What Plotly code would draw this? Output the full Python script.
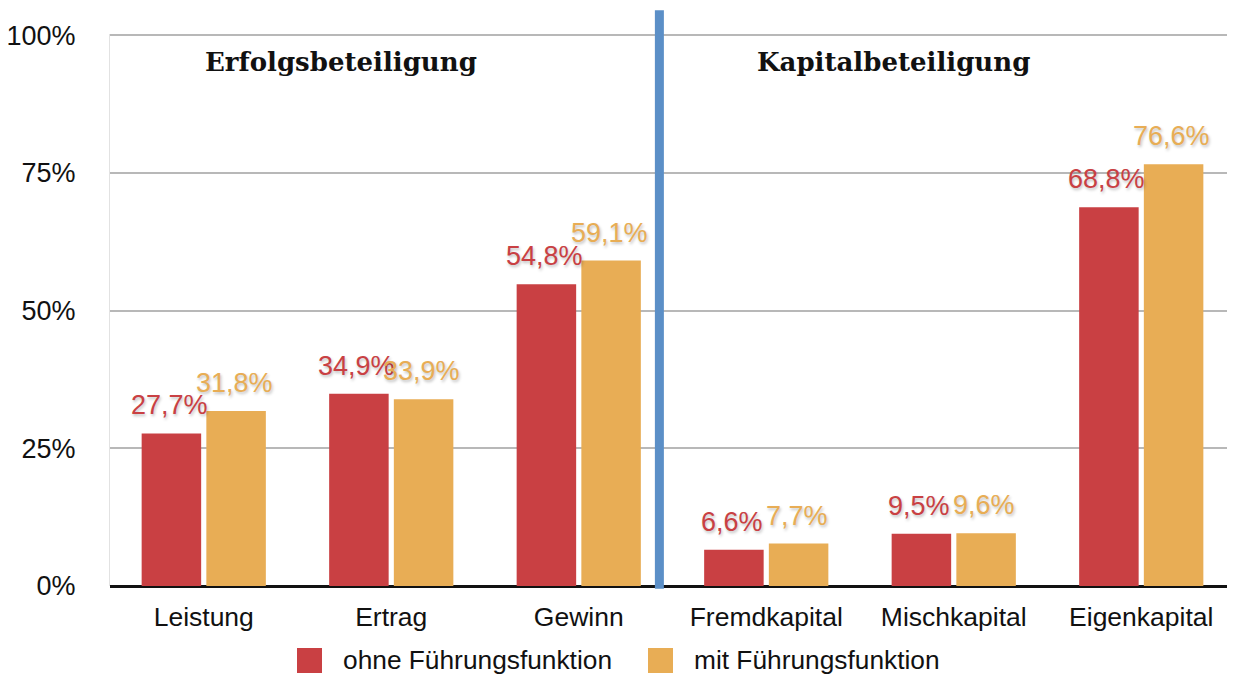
import plotly.graph_objects as go

categories = ["Leistung", "Ertrag", "Gewinn", "Fremdkapital", "Mischkapital", "Eigenkapital"]
ohne = [27.7, 34.9, 54.8, 6.6, 9.5, 68.8]
mit = [31.8, 33.9, 59.1, 7.7, 9.6, 76.6]
series_names = ["ohne Führungsfunktion", "mit Führungsfunktion"]
tick_vals = [0, 25, 50, 75, 100]
tick_text = ["0%", "25%", "50%", "75%", "100%"]
section_titles = ["Erfolgsbeteiligung", "Kapitalbeteiligung"]

RED = "#c94043"
ORANGE = "#e8ad55"
FONT = "Liberation Sans, Arial, sans-serif"
FS = 27
BARGAP = 0.31
BARGROUPGAP = 0.08
# page body has an 8px default margin, so the figure is 8px smaller
W, H = 1227, 667
ML, MR, MT, MB = 102, 0, 26, 89
PW, PH = W - ML - MR, H - MT - MB

def px_x(px):
    return (px - ML) / PW

def px_y(py):
    return (H - MB - py) / PH

def fmt(v):
    return f"{v:.1f}".replace(".", ",") + "%"

fig = go.Figure()
series = [(series_names[0], ohne, RED), (series_names[1], mit, ORANGE)]
for name, vals, col in series:
    fig.add_trace(go.Bar(
        x=categories, y=vals, name=name, showlegend=False,
        marker=dict(color=col, line=dict(width=0)),
    ))

# value labels above the bars, positioned from the data values
cat_px = PW / len(categories)
group_w = (1 - BARGAP) * cat_px
offsets = [-group_w / 4, group_w / 4]
for (name, vals, col), off in zip(series, offsets):
    for i, v in enumerate(vals):
        fig.add_annotation(
            x=categories[i], y=v, xref="x", yref="y", text=fmt(v),
            showarrow=False, xshift=off - 2, yshift=11, yanchor="bottom",
            font=dict(color=col, size=FS, family=FONT,
                      shadow="1px 2px 3px rgba(0,0,0,0.25)"),
        )

# legend (large square swatches)
legend_x = [289, 640]
for (name, vals, col), lx in zip(series, legend_x):
    fig.add_shape(type="rect", xref="paper", yref="paper",
                  x0=px_x(lx), x1=px_x(lx + 25), y0=px_y(640), y1=px_y(665),
                  fillcolor=col, line=dict(width=0))
    fig.add_annotation(x=px_x(lx + 45), y=px_y(652), xref="paper", yref="paper",
                       text=name, showarrow=False, xanchor="left", yanchor="middle",
                       borderpad=0,
                       font=dict(size=26.3, family=FONT, color="#111"))

fig.update_layout(
    width=W, height=H,
    margin=dict(l=ML, r=MR, t=MT, b=MB, autoexpand=False),
    paper_bgcolor="white", plot_bgcolor="white",
    barmode="group", bargap=BARGAP, bargroupgap=BARGROUPGAP,
    font=dict(family=FONT, size=FS, color="#111"),
    showlegend=False,
    xaxis=dict(showgrid=False, tickfont=dict(size=26.5), ticks="", showline=False,
               zeroline=False, ticklabelstandoff=12, automargin=False),
    yaxis=dict(range=[0, 100.25], tickvals=tick_vals, ticktext=tick_text,
               showgrid=True, gridcolor="#b8b8b8", gridwidth=2,
               zeroline=True, zerolinecolor="#111", zerolinewidth=3,
               showline=True, linecolor="#e2e2e2", linewidth=1,
               ticks="", ticklabelstandoff=28, tickfont=dict(size=FS), automargin=False),
)

# divider between the two sections
fig.add_shape(type="line", xref="x", yref="paper", x0=2.43, x1=2.43, y0=-0.005, y1=1.043,
              line=dict(color="#5b8fc7", width=9))

fig.add_annotation(x=0.73, y=0.949, xref="x", yref="paper", text="<b>" + section_titles[0] + "</b>",
                   showarrow=False, yanchor="middle",
                   font=dict(family="DejaVu Serif, serif", size=26, color="#111"))
fig.add_annotation(x=3.68, y=0.949, xref="x", yref="paper", text="<b>" + section_titles[1] + "</b>",
                   showarrow=False, yanchor="middle",
                   font=dict(family="DejaVu Serif, serif", size=26, color="#111"))

fig.write_html("out.html")
